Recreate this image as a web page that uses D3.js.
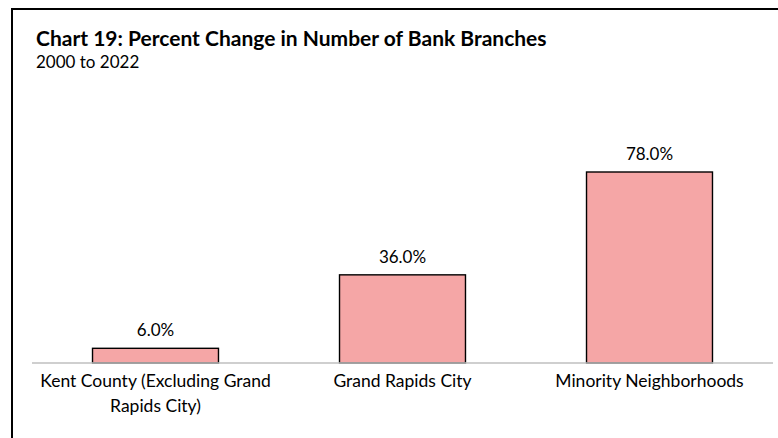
<!DOCTYPE html>
<html>
<head>
<meta charset="utf-8">
<script src="https://cdn.jsdelivr.net/npm/d3@7"></script>
<style>
  html, body { margin: 0; padding: 0; background: #fff; }
  svg { display: block; }
  text { font-family: Lato, "Open Sans", sans-serif; fill: #000; }
</style>
</head>
<body>
<svg id="chart" width="778" height="438"></svg>
<script>
const categories = [
  ["Kent County (Excluding Grand", "Rapids City)"],
  ["Grand Rapids City"],
  ["Minority Neighborhoods"]
];
const values = [6.0, 36.0, 78.0];
const title = "Chart 19: Percent Change in Number of Bank Branches";
const subtitle = "2000 to 2022";

const svg = d3.select("#chart");
const W = 778, H = 438;

// chart frame (top and left edges visible)
svg.append("path")
  .attr("d", `M12,${H} L12,9 L${W},9`)
  .attr("fill", "none")
  .attr("stroke", "#000")
  .attr("stroke-width", 2);

svg.append("text")
  .attr("x", 36).attr("y", 46)
  .attr("font-size", 21).attr("font-weight", "bold")
  .text(title);

svg.append("text")
  .attr("x", 36).attr("y", 68)
  .attr("font-size", 17)
  .text(subtitle);

const keys = categories.map((c, i) => i);
const x = d3.scaleBand().domain(keys).range([32, 773]).paddingInner(0.49).paddingOuter(0.245);
const y = d3.scaleLinear().domain([0, 78]).range([363, 172]);

svg.selectAll("rect.bar")
  .data(values)
  .join("rect")
  .attr("class", "bar")
  .attr("x", (d, i) => x(i))
  .attr("width", x.bandwidth())
  .attr("y", d => y(d))
  .attr("height", d => y(0) - y(d))
  .attr("fill", "#F5A6A6")
  .attr("stroke", "#000")
  .attr("stroke-width", 1.4);

// baseline axis
svg.append("line")
  .attr("x1", 32).attr("x2", 773)
  .attr("y1", y(0)).attr("y2", y(0))
  .attr("stroke", "#bfbfbf").attr("stroke-width", 1.5);

svg.selectAll("text.val")
  .data(values)
  .join("text")
  .attr("class", "val")
  .attr("x", (d, i) => x(i) + x.bandwidth() / 2)
  .attr("y", d => y(d) - 12)
  .attr("text-anchor", "middle")
  .attr("font-size", 17)
  .text(d => d3.format(".1f")(d) + "%");

const cat = svg.selectAll("text.cat")
  .data(categories)
  .join("text")
  .attr("class", "cat")
  .attr("text-anchor", "middle")
  .attr("font-size", 17.5)
  .attr("transform", (d, i) => `translate(${x(i) + x.bandwidth() / 2},387)`);
cat.selectAll("tspan")
  .data(d => d)
  .join("tspan")
  .attr("x", 0)
  .attr("y", (d, j) => j * 25)
  .text(d => d);
</script>
</body>
</html>
